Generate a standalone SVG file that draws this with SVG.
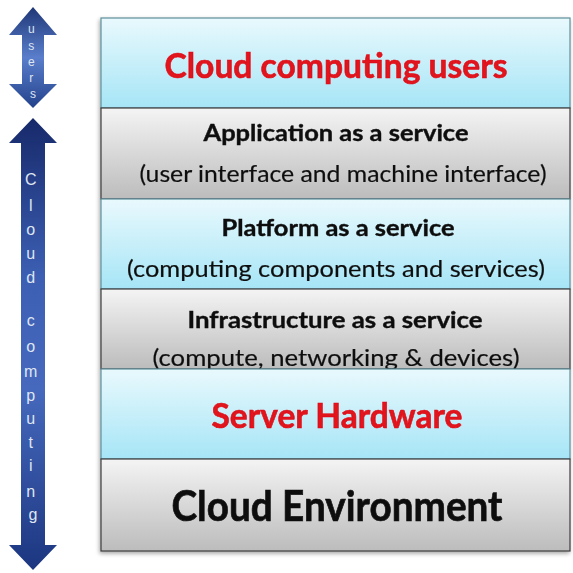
<svg xmlns="http://www.w3.org/2000/svg" width="573" height="573" viewBox="0 0 573 573">
  <defs>
    <linearGradient id="blueFill" x1="0" y1="0" x2="0" y2="1">
      <stop offset="0" stop-color="#e9f9fd"/>
      <stop offset="1" stop-color="#a6e5f6"/>
    </linearGradient>
    <linearGradient id="grayFill" x1="0" y1="0" x2="0" y2="1">
      <stop offset="0" stop-color="#f4f4f4"/>
      <stop offset="1" stop-color="#bcbcbc"/>
    </linearGradient>
    <linearGradient id="arrowCloud" gradientUnits="userSpaceOnUse" x1="0" y1="118" x2="0" y2="570">
      <stop offset="0" stop-color="#17296a"/>
      <stop offset="0.35" stop-color="#3c5fb3"/>
      <stop offset="0.6" stop-color="#4669bd"/>
      <stop offset="1" stop-color="#1c3680"/>
    </linearGradient>
    <linearGradient id="arrowUsers" gradientUnits="userSpaceOnUse" x1="0" y1="7" x2="0" y2="108">
      <stop offset="0" stop-color="#1f3777"/>
      <stop offset="0.5" stop-color="#5a7ecb"/>
      <stop offset="1" stop-color="#24428c"/>
    </linearGradient>
    <filter id="shadow" x="-5%" y="-5%" width="110%" height="110%">
      <feGaussianBlur in="SourceAlpha" stdDeviation="2"/>
      <feOffset dx="-1" dy="2" result="b"/>
      <feComponentTransfer><feFuncA type="linear" slope="0.35"/></feComponentTransfer>
      <feMerge><feMergeNode/><feMergeNode in="SourceGraphic"/></feMerge>
    </filter>
  </defs>
  <style>
    .blue { fill: url(#blueFill); stroke: #5f8f9c; stroke-width: 1.2; }
    .gray { fill: url(#grayFill); stroke: #3c3c3c; stroke-width: 1.2; }
    .red { font-family: Lato, "Liberation Sans", sans-serif; font-weight: bold; fill: #e0121c; stroke: #e0121c; stroke-width: 0.6; text-anchor: middle; font-size: 34px; }
    .head { font-family: Lato, "Liberation Sans", sans-serif; font-weight: bold; fill: #111; stroke: #111; stroke-width: 0.4; text-anchor: middle; font-size: 23px; }
    .sub { font-family: Lato, "Liberation Sans", sans-serif; fill: #111; stroke: #111; stroke-width: 0.2; text-anchor: middle; font-size: 24px; }
    .big { font-family: Lato, "Liberation Sans", sans-serif; font-weight: bold; fill: #111; stroke: #111; stroke-width: 0.7; text-anchor: middle; font-size: 42px; }
    .alet { font-family: "Liberation Sans", Arial, sans-serif; fill: #dfe6f2; text-anchor: middle; }
  </style>

  <g id="stack" filter="url(#shadow)">
    <g id="users-layer">
      <rect class="blue" x="101" y="18" width="469" height="90"/>
      <text class="red" x="336" y="78" textLength="343" lengthAdjust="spacingAndGlyphs">Cloud computing users</text>
    </g>
    <g id="saas-layer">
      <rect class="gray" x="101" y="108" width="469" height="91"/>
      <text class="head" x="336" y="141" textLength="265" lengthAdjust="spacingAndGlyphs">Application as a service</text>
      <text class="sub" x="343" y="182" textLength="407" lengthAdjust="spacingAndGlyphs">(user interface and machine interface)</text>
    </g>
    <g id="paas-layer">
      <rect class="blue" x="101" y="199" width="469" height="90"/>
      <text class="head" x="338" y="236" textLength="233" lengthAdjust="spacingAndGlyphs">Platform as a service</text>
      <text class="sub" x="336" y="277" textLength="418" lengthAdjust="spacingAndGlyphs">(computing components and services)</text>
    </g>
    <g id="iaas-layer">
      <rect class="gray" x="101" y="289" width="469" height="80"/>
      <text class="head" x="335" y="328" textLength="295" lengthAdjust="spacingAndGlyphs">Infrastructure as a service</text>
      <text class="sub" x="336" y="366" textLength="367" lengthAdjust="spacingAndGlyphs">(compute, networking &amp; devices)</text>
    </g>
    <g id="hardware-layer">
      <rect class="blue" x="101" y="369" width="469" height="90"/>
      <text class="red" x="337" y="428" textLength="251" lengthAdjust="spacingAndGlyphs">Server Hardware</text>
    </g>
    <g id="environment-layer">
      <rect class="gray" x="101" y="459" width="469" height="92"/>
      <text class="big" x="337" y="521" textLength="331" lengthAdjust="spacingAndGlyphs">Cloud Environment</text>
    </g>
  </g>

  <g id="connectors">
    <g id="users-arrow">
      <polygon points="33,7 57,35 44,35 44,84 57,84 33,108 9,84 22,84 22,35 9,35" fill="url(#arrowUsers)"/>
      <text class="alet" font-size="12">
        <tspan x="33" y="33">u</tspan>
        <tspan x="33" y="50">s</tspan>
        <tspan x="33" y="66">e</tspan>
        <tspan x="33" y="82">r</tspan>
        <tspan x="33" y="98">s</tspan>
      </text>
    </g>
    <g id="cloud-computing-arrow">
      <polygon points="33,118 57,143 45,143 45,545 57,545 33,570 9,545 21,545 21,143 9,143" fill="url(#arrowCloud)"/>
      <text class="alet" font-size="16">
        <tspan x="33" y="185">C</tspan>
        <tspan x="33" y="211">l</tspan>
        <tspan x="33" y="235">o</tspan>
        <tspan x="33" y="259">u</tspan>
        <tspan x="33" y="283">d</tspan>
        <tspan x="33" y="326">c</tspan>
        <tspan x="33" y="352">o</tspan>
        <tspan x="33" y="377">m</tspan>
        <tspan x="33" y="401">p</tspan>
        <tspan x="33" y="424">u</tspan>
        <tspan x="33" y="448">t</tspan>
        <tspan x="33" y="471">i</tspan>
        <tspan x="33" y="497">n</tspan>
        <tspan x="33" y="520">g</tspan>
      </text>
    </g>
  </g>
</svg>
